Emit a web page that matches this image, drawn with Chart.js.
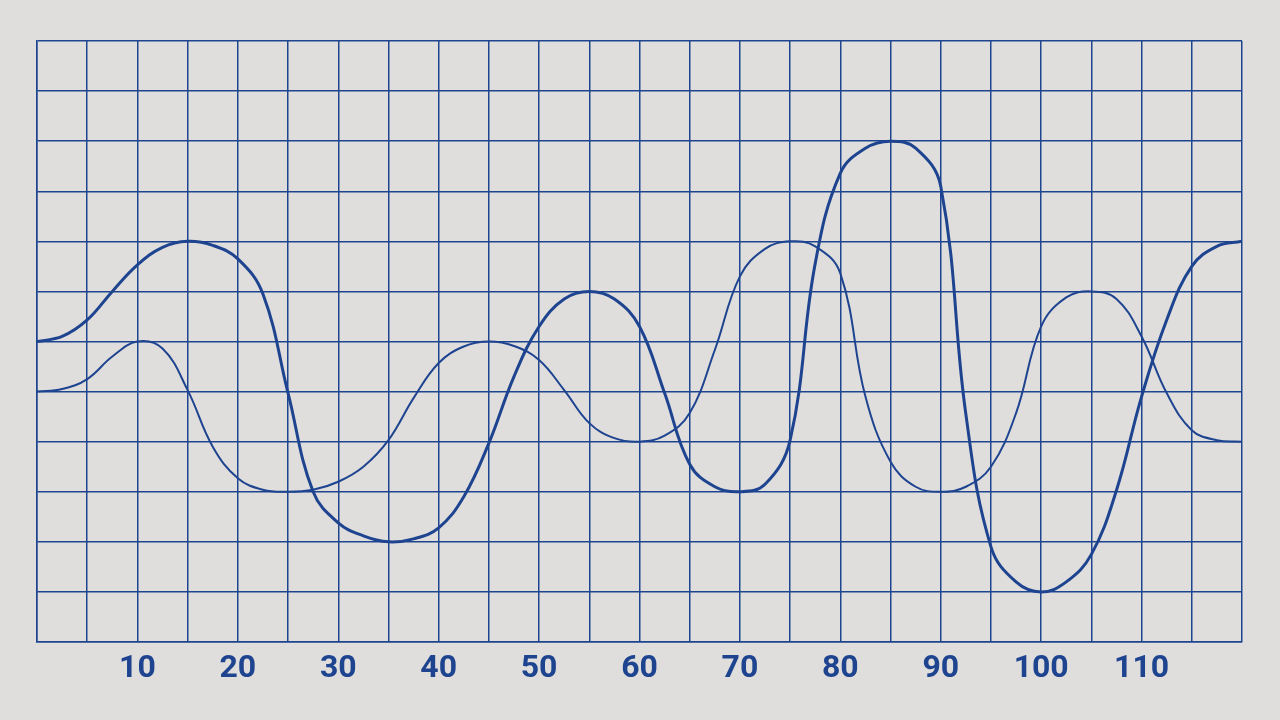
<!DOCTYPE html>
<html>
<head>
<meta charset="utf-8">
<script src="https://cdn.jsdelivr.net/npm/chart.js@4/dist/chart.umd.min.js"></script>
<style>
  html, body { margin: 0; padding: 0; background: #dfdedd; }
  canvas { display: block; }
</style>
</head>
<body>
<canvas id="chart" width="1280" height="720"></canvas>
<script>
  // x positions, two readings per grid column
  const xValues = [0, 2.5, 5, 7.5, 10, 12.5, 15, 17.5, 20, 22.5, 25, 27.5, 30, 32.5, 35, 37.5, 40, 42.5, 45, 47.5,
    50, 52.5, 55, 57.5, 60, 62.5, 65, 67.5, 70, 72.5, 75, 77.5, 80, 82.5, 85, 87.5, 90, 92.5, 95, 97.5,
    100, 102.5, 105, 107.5, 110, 112.5, 115, 117.5, 120];
  const thickLine = [6, 6.1, 6.43, 7.0, 7.53, 7.88, 8, 7.92, 7.65, 6.95, 4.97, 3.0, 2.38, 2.12, 2, 2.06, 2.28, 2.9, 3.97, 5.3,
    6.3, 6.85, 7, 6.85, 6.3, 4.97, 3.55, 3.1, 3, 3.15, 4.03, 7.56, 9.36, 9.86, 10, 9.86, 9.1, 4.55, 1.9, 1.2,
    1, 1.2, 1.75, 3.03, 4.9, 6.43, 7.5, 7.9, 8];
  const thinLine = [5, 5.05, 5.25, 5.7, 6, 5.86, 5.03, 3.9, 3.27, 3.04, 3, 3.04, 3.2, 3.5, 4.03, 4.87, 5.57, 5.9, 6, 5.91,
    5.63, 5.03, 4.37, 4.07, 4, 4.12, 4.57, 5.83, 7.3, 7.85, 8, 7.9, 7.36, 4.9, 3.6, 3.1, 3, 3.1, 3.5, 4.57,
    6.3, 6.88, 7, 6.85, 6.1, 4.97, 4.23, 4.03, 4];
  const tickLabels = [10, 20, 30, 40, 50, 60, 70, 80, 90, 100, 110];

  const blue = '#1e4490';
  const toPoints = (ys) => ys.map((y, i) => ({ x: xValues[i], y }));

  new Chart(document.getElementById('chart'), {
    type: 'line',
    data: {
      datasets: [
        { data: toPoints(thinLine), borderColor: blue, borderWidth: 2, pointRadius: 0, tension: 0.4, fill: false },
        { data: toPoints(thickLine), borderColor: blue, borderWidth: 3, pointRadius: 0, tension: 0.4, fill: false }
      ]
    },
    options: {
      responsive: false,
      animation: false,
      layout: { padding: { left: 37, top: 41, right: 38, bottom: 0 } },
      plugins: { legend: { display: false }, tooltip: { enabled: false } },
      scales: {
        x: {
          type: 'linear',
          min: 0,
          max: 120,
          afterFit: (s) => { s.height = 78; },
          ticks: {
            stepSize: 5,
            color: blue,
            padding: 8,
            maxRotation: 0,
            autoSkip: false,
            font: { family: 'Roboto', weight: 'bold', size: 32 },
            callback: (v) => tickLabels.includes(v) ? String(v) : ''
          },
          grid: { color: blue, lineWidth: 1.5, drawTicks: false },
          border: { color: blue, width: 1.5 }
        },
        y: {
          min: 0,
          max: 12,
          afterFit: (s) => { s.width = 0; },
          ticks: { stepSize: 1, display: false },
          grid: { color: blue, lineWidth: 1.5, drawTicks: false },
          border: { color: blue, width: 1.5 }
        }
      }
    }
  });
</script>
</body>
</html>
